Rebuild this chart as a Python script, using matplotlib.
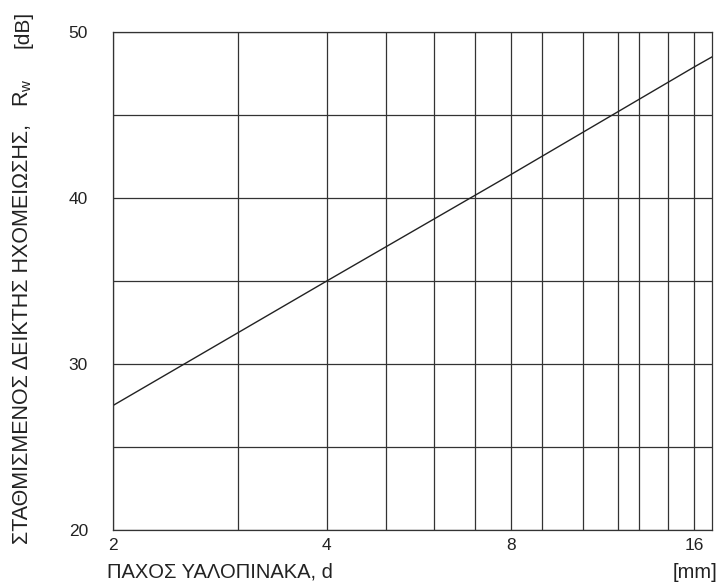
import numpy as np
import matplotlib
matplotlib.use("Agg")
import matplotlib.pyplot as plt

plt.rcParams["font.family"] = ["Liberation Sans", "DejaVu Sans"]

# Data: weighted sound reduction index vs glass pane thickness
thickness = [2, 4, 8, 16, 17.1]            # mm
r_w = [27.5, 35.0, 41.4, 47.9, 48.5]       # dB

x_ticks = [2, 4, 8, 16]
x_grid = [3, 5, 6, 7, 9, 10.5, 12, 13, 14.5]
y_ticks = [20, 30, 40, 50]
y_grid = [25, 35, 45]

# log2 axis, first octave stretched a bit
K = 214 / 184


def fwd(x):
    l = np.log2(np.clip(x, 1e-6, None))
    return np.where(l < 2, 2 + (l - 2) * K, l)


def inv(y):
    y = np.asarray(y, dtype=float)
    return np.where(y < 2, 2 ** (2 + (y - 2) / K), 2 ** y)


fig = plt.figure(figsize=(7.2, 5.85), dpi=100)
ax = fig.add_axes([113 / 720, 55 / 585, 599 / 720, 498 / 585])

ax.set_xscale("function", functions=(fwd, inv))
ax.plot(thickness, r_w, color="#222222", linewidth=1.0)

ax.set_xlim(2, 17.1)
ax.set_ylim(20, 50)
ax.set_xticks(x_ticks)
ax.set_xticklabels([str(t) for t in x_ticks])
ax.set_xticks(x_grid, minor=True)
ax.set_yticks(y_ticks)
ax.set_yticks(y_grid, minor=True)

ax.grid(which="both", color="#333333", linewidth=0.9)
ax.set_axisbelow(True)
for s in ax.spines.values():
    s.set_color("#333333")
    s.set_linewidth(0.9)

ax.tick_params(which="both", length=0, labelsize=12.5, colors="#222222")
ax.tick_params(axis="x", pad=6)
ax.tick_params(axis="y", pad=18)

# axis titles
txt = dict(color="#222222")
fig.text(107 / 720, 1 - 572 / 585, "ΠΑΧΟΣ ΥΑΛΟΠΙΝΑΚΑ, d", fontsize=14.5,
         ha="left", va="center", **txt)
fig.text(717 / 720, 1 - 572 / 585, "[mm]", fontsize=14.5,
         ha="right", va="center", **txt)
fig.text(23 / 720, 1 - 544 / 585, "ΣΤΑΘΜΙΣΜΕΝΟΣ ΔΕΙΚΤΗΣ ΗΧΟΜΕΙΩΣΗΣ,", fontsize=15.5,
         rotation=90, ha="center", va="bottom", **txt)
fig.text(23 / 720, 1 - 93 / 585, "R$_\\mathregular{w}$", fontsize=15.5,
         rotation=90, ha="center", va="center", **txt)
fig.text(23 / 720, 1 - 11 / 585, "[dB]", fontsize=15,
         rotation=90, ha="center", va="top", **txt)

fig.savefig("out.png", dpi=100)
